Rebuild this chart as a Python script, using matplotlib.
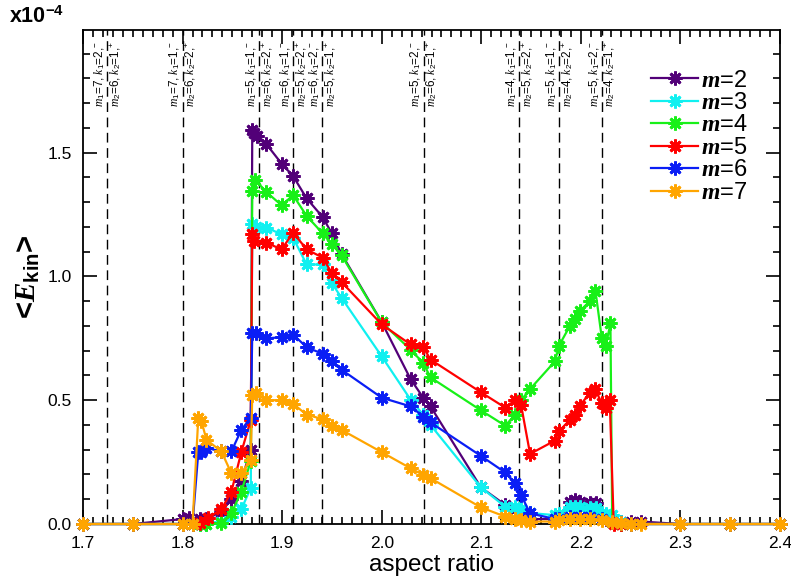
import matplotlib
matplotlib.use('Agg')
import matplotlib.pyplot as plt
from matplotlib.ticker import MultipleLocator, FormatStrFormatter

plt.rcParams['font.family'] = ['Liberation Sans', 'DejaVu Sans']
plt.rcParams['mathtext.fontset'] = 'custom'
plt.rcParams['mathtext.rm'] = 'Liberation Sans'
plt.rcParams['mathtext.it'] = 'Liberation Serif:italic'
plt.rcParams['mathtext.bf'] = 'Liberation Serif:bold:italic'
plt.rcParams['mathtext.sf'] = 'Liberation Sans:bold'

# ---- data (E_kin in units of 1e-4) ----
x_m2 = [1.700, 1.750, 1.800, 1.806, 1.8175, 1.824, 1.839, 1.849, 1.859, 1.8685,
        1.870, 1.872, 1.875, 1.884, 1.8995, 1.911, 1.9246, 1.9406, 1.9497, 1.9597,
        2.000, 2.029, 2.0417, 2.049, 2.0996, 2.124, 2.134, 2.140, 2.149, 2.174,
        2.178, 2.189, 2.194, 2.199, 2.209, 2.215, 2.221, 2.225, 2.230, 2.240,
        2.250, 2.260, 2.300, 2.350, 2.400]
y_m2 = [0, 0, 0.02, 0.025, 0.02, 0.02, 0.05, 0.10, 0.175, 0.30,
        1.59, 1.58, 1.565, 1.535, 1.455, 1.405, 1.315, 1.24, 1.175, 1.09,
        0.815, 0.585, 0.51, 0.475, 0.148, 0.077, 0.06, 0.04, 0.02, 0.02,
        0.03, 0.09, 0.097, 0.09, 0.085, 0.085, 0.03, 0.02, 0.02, 0.01,
        0.01, 0.01, 0, 0, 0]

x_m3 = [1.700, 1.750, 1.800, 1.810, 1.8175, 1.824, 1.839, 1.849, 1.859, 1.8685,
        1.870, 1.874, 1.884, 1.8995, 1.911, 1.9246, 1.9406, 1.9497, 1.9597,
        2.000, 2.029, 2.0417, 2.049, 2.0996, 2.124, 2.134, 2.140, 2.149,
        2.174, 2.178, 2.189, 2.194, 2.199, 2.209, 2.215, 2.221, 2.225, 2.231,
        2.240, 2.250, 2.300, 2.350, 2.400]
y_m3 = [0, 0, 0, 0, 0, 0, 0.01, 0.03, 0.06, 0.145,
        1.21, 1.20, 1.197, 1.17, 1.156, 1.048, 1.048, 0.974, 0.913,
        0.677, 0.502, 0.441, 0.40, 0.148, 0.07, 0.07, 0.06, 0.044,
        0.036, 0.04, 0.07, 0.07, 0.07, 0.064, 0.064, 0.043, 0.04, 0.036,
        0.01, 0, 0, 0, 0]

x_m4 = [1.700, 1.750, 1.800, 1.810, 1.8175, 1.824, 1.839, 1.849, 1.859, 1.8685,
        1.870, 1.873, 1.884, 1.8995, 1.911, 1.9246, 1.9406, 1.9497, 1.9597,
        2.000, 2.029, 2.0417, 2.049, 2.0996, 2.124, 2.134, 2.140, 2.149,
        2.174, 2.178, 2.189, 2.194, 2.199, 2.209, 2.2147, 2.221, 2.225, 2.2297,
        2.2315, 2.240, 2.250, 2.300, 2.350, 2.400]
y_m4 = [0, 0, 0, 0, 0, 0, 0.005, 0.043, 0.13, 0.255,
        1.345, 1.39, 1.341, 1.287, 1.328, 1.244, 1.174, 1.13, 1.085,
        0.814, 0.704, 0.65, 0.592, 0.459, 0.397, 0.441, 0.50, 0.545,
        0.657, 0.72, 0.80, 0.826, 0.86, 0.90, 0.94, 0.752, 0.718, 0.81,
        0.01, 0, 0, 0, 0, 0]

x_m5 = [1.700, 1.750, 1.800, 1.810, 1.8175, 1.826, 1.839, 1.849, 1.859, 1.8685,
        1.870, 1.872, 1.884, 1.8995, 1.911, 1.9246, 1.9406, 1.9497, 1.9597,
        2.000, 2.029, 2.0417, 2.049, 2.0996, 2.124, 2.134, 2.140, 2.149,
        2.174, 2.178, 2.189, 2.194, 2.199, 2.209, 2.214, 2.221, 2.225, 2.229,
        2.233, 2.240, 2.250, 2.300, 2.350, 2.400]
y_m5 = [0, 0, 0, 0, 0.005, 0.025, 0.06, 0.13, 0.29, 0.42,
        1.17, 1.143, 1.136, 1.109, 1.177, 1.109, 1.076, 1.015, 0.977,
        0.806, 0.725, 0.715, 0.664, 0.532, 0.47, 0.50, 0.48, 0.283,
        0.337, 0.374, 0.421, 0.441, 0.478, 0.529, 0.545, 0.489, 0.468, 0.502,
        0.0, 0, 0, 0, 0, 0]

x_m6 = [1.700, 1.750, 1.800, 1.810, 1.8158, 1.819, 1.824, 1.839, 1.849, 1.859, 1.8685,
        1.870, 1.874, 1.884, 1.8995, 1.911, 1.9246, 1.9406, 1.9497, 1.9597,
        2.000, 2.029, 2.0417, 2.049, 2.0996, 2.124, 2.134, 2.140, 2.149,
        2.174, 2.178, 2.189, 2.199, 2.209, 2.221, 2.231,
        2.240, 2.250, 2.300, 2.350, 2.400]
y_m6 = [0, 0, 0, 0, 0.29, 0.29, 0.307, 0.293, 0.293, 0.38, 0.43,
        0.77, 0.77, 0.75, 0.754, 0.765, 0.714, 0.687, 0.657, 0.623,
        0.51, 0.475, 0.434, 0.41, 0.275, 0.208, 0.164, 0.117, 0.043,
        0.02, 0.02, 0.03, 0.03, 0.03, 0.02, 0.01,
        0.005, 0, 0, 0, 0]

x_m7 = [1.700, 1.750, 1.800, 1.810, 1.8158, 1.819, 1.824, 1.839, 1.849, 1.859, 1.8685,
        1.870, 1.874, 1.884, 1.8995, 1.911, 1.9246, 1.9406, 1.9497, 1.9597,
        2.000, 2.029, 2.0417, 2.049, 2.0996, 2.124, 2.134, 2.140, 2.149,
        2.174, 2.178, 2.189, 2.199, 2.209, 2.221, 2.231,
        2.240, 2.250, 2.260, 2.300, 2.350, 2.400]
y_m7 = [0, 0, 0, 0, 0.43, 0.415, 0.34, 0.293, 0.205, 0.205, 0.26,
        0.52, 0.53, 0.50, 0.50, 0.486, 0.441, 0.424, 0.397, 0.38,
        0.29, 0.225, 0.198, 0.185, 0.067, 0.03, 0.02, 0.015, 0.01,
        0.01, 0.015, 0.02, 0.02, 0.02, 0.015, 0.01,
        0.005, 0, 0, 0, 0, 0]

series_labels = ['2', '3', '4', '5', '6', '7']
series_colors = ['#520078', '#10F0F0', '#18F018', '#FF0000', '#0A1EF5', '#FFA500']

# resonance lines and their labels
res_x = [1.724, 1.800, 1.877, 1.911, 1.940, 2.042, 2.138, 2.178, 2.221]
res_m1 = ['7', '7', '5', '6', '6', '5', '4', '5', '5']
res_k1 = ['2', '1', '1', '1', '2', '2', '1', '1', '2']
res_m2 = ['6', '6', '6', '5', '5', '6', '5', '4', '4']
res_k2 = ['1', '2', '2', '2', '1', '1', '2', '2', '1']

fig = plt.figure(figsize=(7.91, 5.85), dpi=100)
ax = fig.add_axes([83/791, 61/585, 697/791, 494/585])

for xv in res_x:
    ax.axvline(xv, color='black', lw=1.0, dashes=(7, 4), zorder=1)

for xv, a, b, c, d in zip(res_x, res_m1, res_k1, res_m2, res_k2):
    s = (r'$m_\mathrm{1}$=' + a + r', $k_\mathrm{1}$=' + b + r',$^{-}$' + '\n' +
         r'$m_\mathrm{2}$=' + c + r', $k_\mathrm{2}$=' + d + r',$^{+}$')
    ax.text(xv + 0.0005, 0.978, s, transform=ax.get_xaxis_transform(), rotation=90,
            ha='center', va='top', fontsize=8.4, linespacing=1.1, zorder=2)

xs = [x_m2, x_m3, x_m4, x_m5, x_m6, x_m7]
ys = [y_m2, y_m3, y_m4, y_m5, y_m6, y_m7]
handles = []
for xv, yv, lab, col in zip(xs, ys, series_labels, series_colors):
    ln, = ax.plot(xv, yv, color=col, lw=1.6, marker=(8, 2, 0), markersize=10,
                  markeredgewidth=2.0, zorder=3, label=r'$\mathbf{m}$=' + lab, clip_on=False)
    handles.append(ln)

ax.set_xlim(1.7, 2.4)
ax.set_ylim(0.0, 1.995)
ax.xaxis.set_major_locator(MultipleLocator(0.1))
ax.xaxis.set_minor_locator(MultipleLocator(0.01))
ax.yaxis.set_major_locator(MultipleLocator(0.5))
ax.yaxis.set_minor_locator(MultipleLocator(0.1))
ax.xaxis.set_major_formatter(FormatStrFormatter('%.1f'))
ax.yaxis.set_major_formatter(FormatStrFormatter('%.1f'))
ax.tick_params(which='both', direction='in', top=True, right=True, width=1.2)
ax.tick_params(which='major', length=10, labelsize=12.5)
ax.tick_params(which='minor', length=5)
ax.tick_params(axis='x', which='major', pad=9)
ax.tick_params(axis='y', which='major', pad=8)
for sp in ax.spines.values():
    sp.set_linewidth(1.3)

ax.set_xlabel('aspect ratio', fontsize=17.5, labelpad=2)
ax.set_ylabel(r'<$\mathbf{E}_{\mathsf{kin}}$>', fontsize=21, fontweight='bold', labelpad=4)
fig.text(0.012, 0.952, r'x10$^{\mathsf{-4}}$', fontsize=15.5, fontweight='bold', ha='left', va='bottom')

leg = ax.legend(handles=handles, loc='upper left', bbox_to_anchor=(0.815, 0.92),
                frameon=False, fontsize=17, labelspacing=0.02, handlelength=2.0,
                handletextpad=0.1, borderaxespad=0, borderpad=0)

fig.savefig('out.png', dpi=100)
